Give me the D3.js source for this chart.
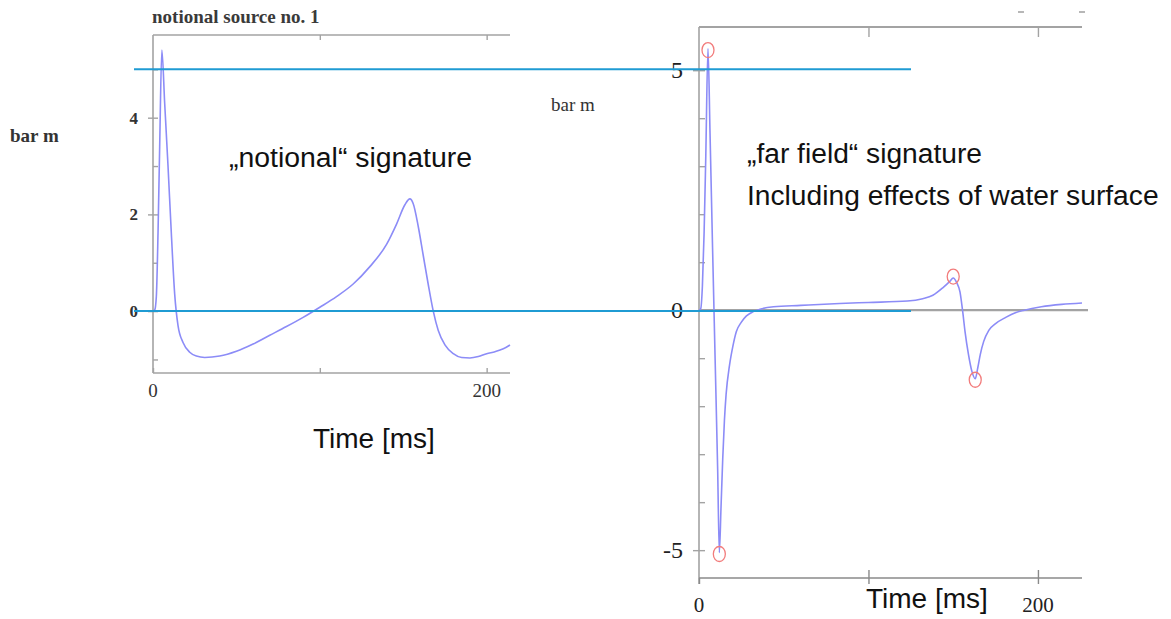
<!DOCTYPE html>
<html><head><meta charset="utf-8">
<script src="https://cdn.jsdelivr.net/npm/d3@7"></script>
<style>
html,body{margin:0;padding:0;background:#fff;}
svg{display:block;}
</style></head>
<body>
<svg id="chart" width="1171" height="619"></svg>
<script>
// ---------- data ----------
const leftTime  = [0,1,2,3,4,5.3,7,9,11,13,15,18,22,26,31,40,50,60,70,80,90,100,110,120,130,140,146,151,154,156,159,162,165,168,171,175,180,185,190,195,200,205,210,214];
const leftValue = [0,0.02,0.3,1.6,3.4,5.4,4.3,3.0,1.6,0.35,-0.3,-0.65,-0.85,-0.93,-0.96,-0.93,-0.83,-0.68,-0.5,-0.32,-0.13,0.08,0.3,0.56,0.92,1.38,1.8,2.2,2.32,2.22,1.75,1.15,0.55,0.0,-0.4,-0.7,-0.88,-0.96,-0.97,-0.94,-0.88,-0.84,-0.78,-0.7];

const rightTime  = [0,1,2,3,4,5.3,6.5,8,9.5,11,12,13,14,15,16,18,20,22,25,28,32,36,44,60,83,100,123,132,138,144,148,150,152,154,155.5,157,159,161,163,164.5,166,168,171,175,181,187,192,202,214,226];
const rightValue = [0,0.03,0.5,1.6,3.2,5.45,3.7,1.3,-1.0,-3.3,-5.05,-4.1,-3.1,-2.3,-1.75,-1.15,-0.75,-0.45,-0.25,-0.12,-0.03,0.02,0.07,0.1,0.14,0.16,0.19,0.24,0.31,0.47,0.6,0.67,0.58,0.38,0,-0.45,-0.92,-1.27,-1.43,-1.2,-0.92,-0.65,-0.42,-0.28,-0.15,-0.05,0,0.07,0.12,0.15];

const markerTime  = [5.3, 12, 150, 163];
const markerValue = [5.42, -5.08, 0.7, -1.45];

const leftYMajor  = [0, 2, 4];
const leftYMinor  = [-1, 0, 1, 2, 3, 4, 5];
const rightYMajor = [5, 0, -5];
const rightYMinor = [-5,-4,-3,-2,-1,0,1,2,3,4,5];
const xTickValues = [0, 100, 200];
const xLabelValues = [0, 200];

const guideValues = [5, 0];   // blue reference lines

// ---------- styles ----------
const axisColor = "#a3a3a3";
const curveColor = "#8c8cf7";
const guideColor = "#1f9bd3";
const markerColor = "#f27c7c";
const serif = "'Liberation Serif','Times New Roman',serif";
const sans = "'Liberation Sans',Arial,sans-serif";
const plainFmt = d => String(d);

const svg = d3.select("#chart");

// ---------- scales ----------
const xL = d3.scaleLinear().domain([0, 214]).range([153, 510]);
const yL = d3.scaleLinear().domain([-1.28, 5.71]).range([373, 35]);
const xR = d3.scaleLinear().domain([0, 226]).range([699, 1082]);
const yR = d3.scaleLinear().domain([-5.58, 5.9]).range([578, 27]);

// ---------- left panel ----------
const gL = svg.append("g");
gL.append("line").attr("x1", xL(0)).attr("x2", xL(0)).attr("y1", yL.range()[1]).attr("y2", yL.range()[0])
  .attr("stroke", axisColor).attr("stroke-width", 1.6);
gL.append("line").attr("x1", xL(0)).attr("x2", xL.range()[1]).attr("y1", yL.range()[1]).attr("y2", yL.range()[1])
  .attr("stroke", axisColor).attr("stroke-width", 1.6);
gL.append("line").attr("x1", xL(0)).attr("x2", xL.range()[1]).attr("y1", yL.range()[0]).attr("y2", yL.range()[0])
  .attr("stroke", axisColor).attr("stroke-width", 1.6);

const axL = gL.append("g").attr("transform", `translate(${xL(0)},0)`)
  .call(d3.axisLeft(yL).tickValues(leftYMajor).tickSize(5).tickPadding(10).tickFormat(plainFmt));
axL.select(".domain").remove();
axL.selectAll("line").attr("stroke", axisColor).attr("stroke-width", 1.4);
axL.selectAll("text").attr("font-family", serif).attr("font-size", 17).attr("font-weight", "bold").attr("fill", "#333");
const axL2 = gL.append("g").attr("transform", `translate(${xL(0)},0)`)
  .call(d3.axisRight(yL).tickValues(leftYMinor).tickSize(5).tickFormat(""));
axL2.select(".domain").remove();
axL2.selectAll("line").attr("stroke", axisColor).attr("stroke-width", 1.4);

const axLB = gL.append("g").attr("transform", `translate(0,${yL.range()[0]})`)
  .call(d3.axisTop(xL).tickValues(xTickValues).tickSize(5).tickFormat(""));
axLB.select(".domain").remove();
axLB.selectAll("line").attr("stroke", axisColor).attr("stroke-width", 1.4);
const axLT = gL.append("g").attr("transform", `translate(0,${yL.range()[1]})`)
  .call(d3.axisBottom(xL).tickValues(xTickValues.slice(1)).tickSize(5).tickFormat(""));
axLT.select(".domain").remove();
axLT.selectAll("line").attr("stroke", axisColor).attr("stroke-width", 1.4);

gL.selectAll("text.xl").data(xLabelValues).join("text").attr("class", "xl")
  .attr("x", d => xL(d)).attr("y", 397).attr("text-anchor", "middle")
  .attr("font-family", serif).attr("font-size", 19).attr("fill", "#333").text(d => d);

const lineL = d3.line().x((d, i) => xL(leftTime[i])).y(d => yL(d)).curve(d3.curveMonotoneX);
gL.append("path").attr("d", lineL(leftValue)).attr("fill", "none")
  .attr("stroke", curveColor).attr("stroke-width", 1.6);

svg.append("text").attr("x", 152).attr("y", 23).attr("font-family", serif).attr("font-size", 19)
  .attr("font-weight", "bold").attr("fill", "#3a3a3a").text("notional source no. 1");
svg.append("text").attr("x", 10).attr("y", 142).attr("font-family", serif).attr("font-size", 19)
  .attr("font-weight", "bold").attr("fill", "#333").text("bar m");
svg.append("text").attr("x", 229).attr("y", 167).attr("font-family", sans).attr("font-size", 28.4)
  .attr("fill", "#111").text("\u201Enotional\u201C signature");
svg.append("text").attr("x", 313).attr("y", 448).attr("font-family", sans).attr("font-size", 28)
  .attr("fill", "#111").text("Time [ms]");

// ---------- right panel ----------
const gR = svg.append("g");
gR.append("line").attr("x1", xR(0)).attr("x2", xR(0)).attr("y1", yR.range()[1]).attr("y2", yR.range()[0] + 6)
  .attr("stroke", axisColor).attr("stroke-width", 1.6);
gR.append("line").attr("x1", xR(0)).attr("x2", xR.range()[1]).attr("y1", yR.range()[1]).attr("y2", yR.range()[1])
  .attr("stroke", axisColor).attr("stroke-width", 1.8);
gR.append("line").attr("x1", xR(0)).attr("x2", xR.range()[1]).attr("y1", yR.range()[0]).attr("y2", yR.range()[0])
  .attr("stroke", "#8a8a8a").attr("stroke-width", 1.6);
gR.append("line").attr("x1", xR(0)).attr("x2", xR.range()[1] + 6).attr("y1", yR(0)).attr("y2", yR(0))
  .attr("stroke", axisColor).attr("stroke-width", 2.2);

const axR = gR.append("g").attr("transform", `translate(${xR(0)},0)`)
  .call(d3.axisLeft(yR).tickValues(rightYMajor).tickSize(6).tickPadding(10).tickFormat(plainFmt));
axR.select(".domain").remove();
axR.selectAll("line").attr("stroke", axisColor).attr("stroke-width", 1.4);
axR.selectAll("text").attr("font-family", serif).attr("font-size", 24).attr("fill", "#222");
const axR2 = gR.append("g").attr("transform", `translate(${xR(0)},0)`)
  .call(d3.axisRight(yR).tickValues(rightYMinor).tickSize(6).tickFormat(""));
axR2.select(".domain").remove();
axR2.selectAll("line").attr("stroke", axisColor).attr("stroke-width", 1.4);

const axRB = gR.append("g").attr("transform", `translate(0,${yR.range()[0]})`)
  .call(d3.axisTop(xR).tickValues(xTickValues.slice(1)).tickSize(8).tickFormat(""));
axRB.select(".domain").remove();
axRB.selectAll("line").attr("stroke", "#8a8a8a").attr("stroke-width", 1.4);
const axRB2 = gR.append("g").attr("transform", `translate(0,${yR.range()[0]})`)
  .call(d3.axisBottom(xR).tickValues(xTickValues).tickSize(6).tickFormat(""));
axRB2.select(".domain").remove();
axRB2.selectAll("line").attr("stroke", "#8a8a8a").attr("stroke-width", 1.4);
const axRT = gR.append("g").attr("transform", `translate(0,${yR.range()[1]})`)
  .call(d3.axisBottom(xR).tickValues(xTickValues.slice(1)).tickSize(10).tickFormat(""));
axRT.select(".domain").remove();
axRT.selectAll("line").attr("stroke", axisColor).attr("stroke-width", 1.4);

gR.selectAll("text.xr").data(xLabelValues).join("text").attr("class", "xr")
  .attr("x", d => xR(d)).attr("y", 612).attr("text-anchor", "middle")
  .attr("font-family", serif).attr("font-size", 21).attr("fill", "#222").text(d => d);

const lineR = d3.line().x((d, i) => xR(rightTime[i])).y(d => yR(d)).curve(d3.curveMonotoneX);
gR.append("path").attr("d", lineR(rightValue)).attr("fill", "none")
  .attr("stroke", curveColor).attr("stroke-width", 1.6);

gR.selectAll("ellipse.mk").data(markerValue).join("ellipse").attr("class", "mk")
  .attr("cx", (d, i) => xR(markerTime[i])).attr("cy", d => yR(d))
  .attr("rx", 6).attr("ry", 7.5).attr("fill", "none")
  .attr("stroke", markerColor).attr("stroke-width", 1.3);

// faint marks at the top right
gR.selectAll("line.topmark").data([190, 226]).join("line").attr("class", "topmark")
  .attr("x1", d => xR(d) - 3).attr("x2", d => xR(d) + 3).attr("y1", 12).attr("y2", 12)
  .attr("stroke", "#888").attr("stroke-width", 1.2);

svg.append("text").attr("x", 551).attr("y", 111).attr("font-family", serif).attr("font-size", 19)
  .attr("fill", "#333").text("bar m");
svg.append("text").attr("x", 747).attr("y", 163).attr("font-family", sans).attr("font-size", 28.2)
  .attr("fill", "#111").text("\u201Efar field\u201C signature");
svg.append("text").attr("x", 747).attr("y", 205).attr("font-family", sans).attr("font-size", 28.2)
  .attr("fill", "#111").text("Including effects of water surface");
svg.append("text").attr("x", 866).attr("y", 608).attr("font-family", sans).attr("font-size", 28)
  .attr("fill", "#111").text("Time [ms]");

// ---------- blue reference lines ----------
svg.selectAll("line.guide").data(guideValues).join("line").attr("class", "guide")
  .attr("x1", 134).attr("x2", 911)
  .attr("y1", d => yL(d)).attr("y2", d => yL(d))
  .attr("stroke", guideColor).attr("stroke-width", 2);
</script>
</body></html>
